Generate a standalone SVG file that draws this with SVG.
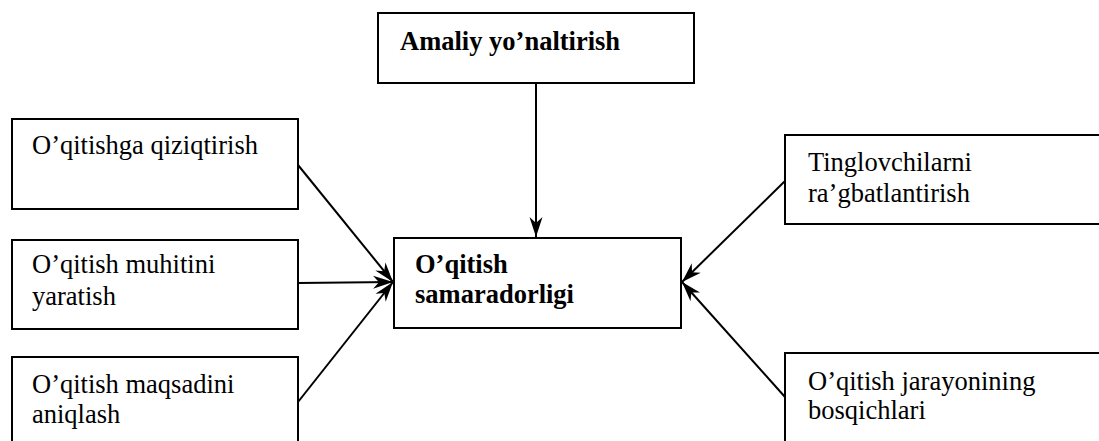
<svg xmlns="http://www.w3.org/2000/svg" width="1099" height="441" viewBox="0 0 1099 441">
<style>
.box{fill:#fff;stroke:#000;stroke-width:2}
.t{font-family:"Liberation Serif","Times New Roman",serif;font-size:26.5px;fill:#000}
.b{font-weight:bold}
.c{stroke:#000;stroke-width:2;fill:none}
</style>
<defs>
<marker id="ah" markerUnits="userSpaceOnUse" markerWidth="22" markerHeight="14" refX="20" refY="7" orient="auto">
<path d="M0,0.5 L20,7 L0,13.5 L6,7 Z" fill="#000"/>
</marker>
</defs>
<rect width="1099" height="441" fill="#fff"/>
<g id="connectors">
<line class="c" x1="536" y1="83" x2="536" y2="237" marker-end="url(#ah)"/>
<line class="c" x1="298" y1="165" x2="393" y2="282" marker-end="url(#ah)"/>
<line class="c" x1="298" y1="283" x2="393" y2="282" marker-end="url(#ah)"/>
<line class="c" x1="298" y1="402" x2="393" y2="282" marker-end="url(#ah)"/>
<line class="c" x1="785" y1="181" x2="682" y2="282" marker-end="url(#ah)"/>
<line class="c" x1="785" y1="397" x2="682" y2="282" marker-end="url(#ah)"/>
</g>
<g id="n-top">
<rect class="box" x="378" y="13" width="316" height="70"/>
<text class="t b" x="400" y="50">Amaliy yo’naltirish</text>
</g>
<g id="n-center">
<rect class="box" x="394" y="238" width="287" height="90"/>
<text class="t b" x="415" y="273">O’qitish</text>
<text class="t b" x="415" y="303">samaradorligi</text>
</g>
<g id="n-left1">
<rect class="box" x="12" y="119" width="286" height="90"/>
<text class="t" x="32" y="154">O’qitishga qiziqtirish</text>
</g>
<g id="n-left2">
<rect class="box" x="12" y="240" width="286" height="89"/>
<text class="t" x="32" y="273">O’qitish muhitini</text>
<text class="t" x="32" y="305">yaratish</text>
</g>
<g id="n-left3">
<rect class="box" x="12" y="357" width="286" height="100"/>
<text class="t" x="32" y="393">O’qitish maqsadini</text>
<text class="t" x="32" y="423">aniqlash</text>
</g>
<g id="n-right1">
<rect class="box" x="785" y="135" width="330" height="89"/>
<text class="t" x="808" y="171">Tinglovchilarni</text>
<text class="t" x="808" y="202">ra’gbatlantirish</text>
</g>
<g id="n-right2">
<rect class="box" x="785" y="353" width="330" height="100"/>
<text class="t" x="808" y="390">O’qitish jarayonining</text>
<text class="t" x="808" y="419">bosqichlari</text>
</g>
</svg>
